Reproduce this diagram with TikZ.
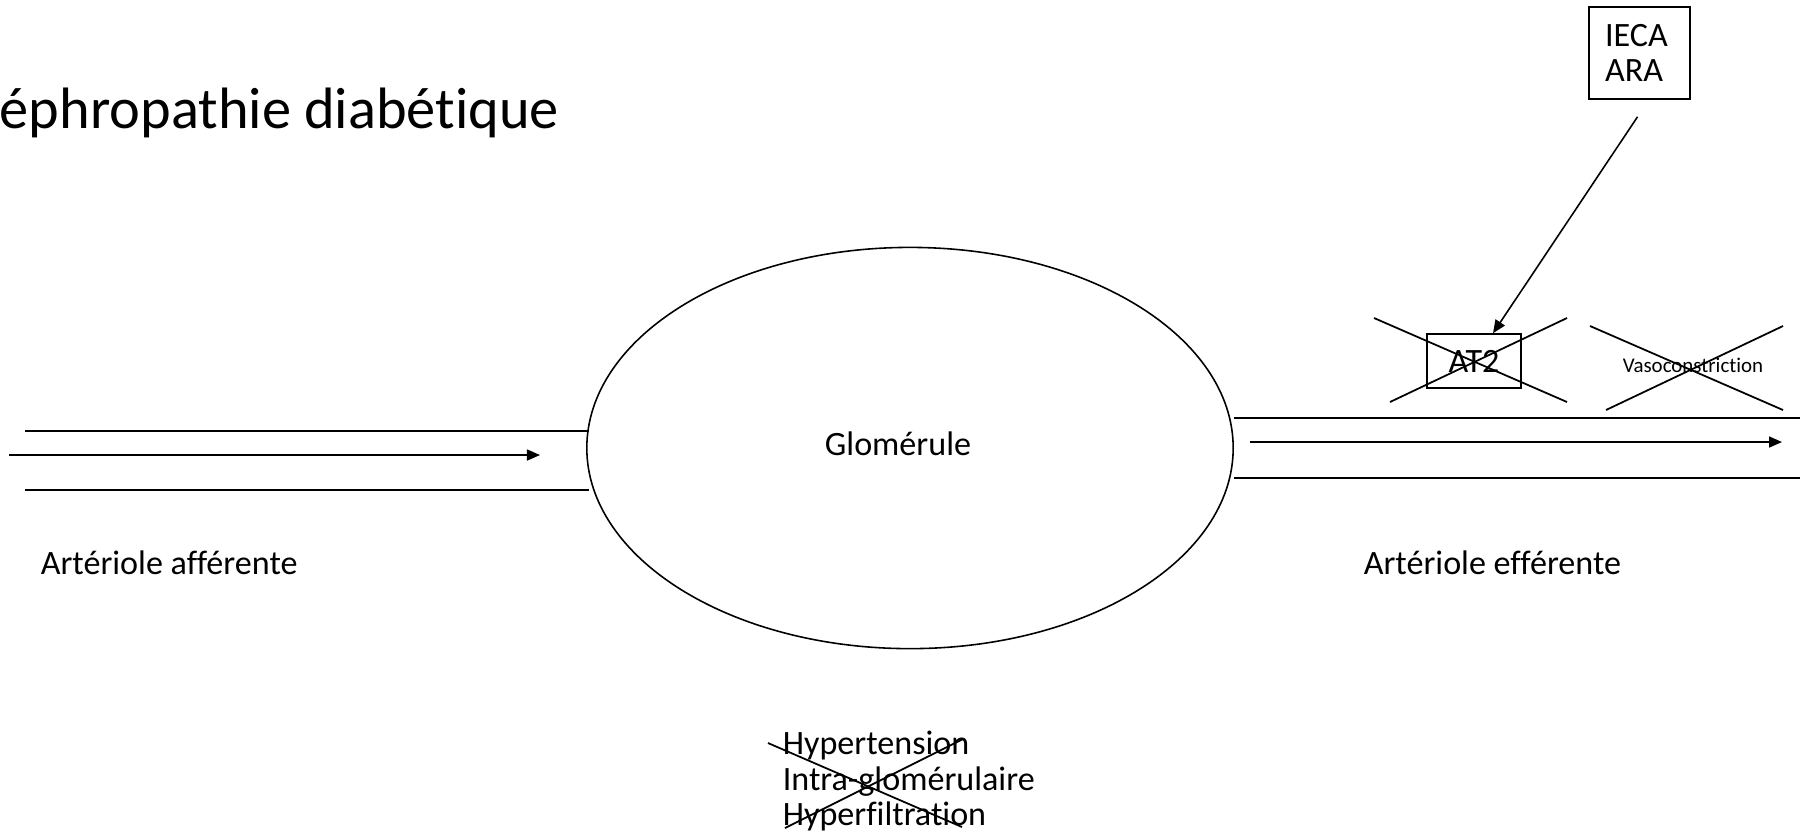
\documentclass[tikz,border=0pt]{standalone}
\usepackage{fontspec}
\setmainfont[Ligatures=NoCommon]{Carlito}
\usetikzlibrary{arrows.meta,shapes.geometric,calc}

\begin{document}
\begin{tikzpicture}[x=0.01cm,y=-0.01cm,line width=0.45pt,
    txt/.style={font=\fontsize{9.7}{10}\selectfont,inner sep=0pt},
    flow/.style={-{Triangle[length=1.3mm,width=1.1mm]}},
    crossline/.style={line width=0.5pt}]
            \useasboundingbox (0,0) rectangle (1800,838);
            \node[txt,font=\fontsize{16.6}{18}\selectfont,anchor=base west] (Title) at (-1,128) {éphropathie diabétique};
            \node[ellipse,draw,minimum width=6.46cm,minimum height=4.01cm,inner sep=0pt] (Glom) at (910,448) {};
            \node[txt] (GlomTxt) at (898,444) {Glomérule};
            \coordinate (AfTopA) at (25,431);
            \coordinate (AfTopB) at (589,431);
            \coordinate (AfBotA) at (25,490);
            \coordinate (AfBotB) at (589,490);
            \coordinate (AfIn) at (9,455);
            \coordinate (AfOut) at (540,455);
            \coordinate (EfTopA) at (1234,418);
            \coordinate (EfTopB) at (1800,418);
            \coordinate (EfBotA) at (1234,478);
            \coordinate (EfBotB) at (1800,478);
            \coordinate (EfIn) at (1250,442);
            \coordinate (EfOut) at (1782,442);
            \node[txt,anchor=base west] (Afferente) at (40,574) {Artériole afférente};
            \node[txt,anchor=base west] (Efferente) at (1363,574) {Artériole efférente};
            \node[draw,txt,minimum width=1.01cm,minimum height=0.92cm,text width=0.69cm,align=left] (IECA) at (1639.5,53) {IECA\\ARA};
            \node[draw,txt,minimum width=0.94cm,minimum height=0.54cm] (AT2) at (1474,361) {AT2};
            \node[txt,font=\fontsize{5.95}{6}\selectfont] (Vaso) at (1693,365) {Vasoconstriction};
            \node[txt,align=left,anchor=west] (Hyper) at (782,781) {Hypertension\\Intra-glomérulaire\\Hyperfiltration};
            \draw (AfTopA) -- (AfTopB);
            \draw (AfBotA) -- (AfBotB);
            \draw[flow] (AfIn) -- (AfOut);
            \draw (EfTopA) -- (EfTopB);
            \draw (EfBotA) -- (EfBotB);
            \draw[flow] (EfIn) -- (EfOut);
            \draw[flow] ($(IECA.south)+(-2,17)$) -- ($(AT2.north)+(19,0)$);
            \draw[crossline] ($(AT2)+(-100,-43)$) -- ($(AT2)+(93,41)$);
            \draw[crossline] ($(AT2)+(-84,41)$) -- ($(AT2)+(93,-43)$);
            \draw[crossline] ($(Vaso)+(-103,-39)$) -- ($(Vaso)+(90,45)$);
            \draw[crossline] ($(Vaso)+(-87,45)$) -- ($(Vaso)+(90,-39)$);
            \draw[crossline] (768,743) -- (962,827);
            \draw[crossline] (785,828) -- (963,739);
        \end{tikzpicture}
\end{document}
